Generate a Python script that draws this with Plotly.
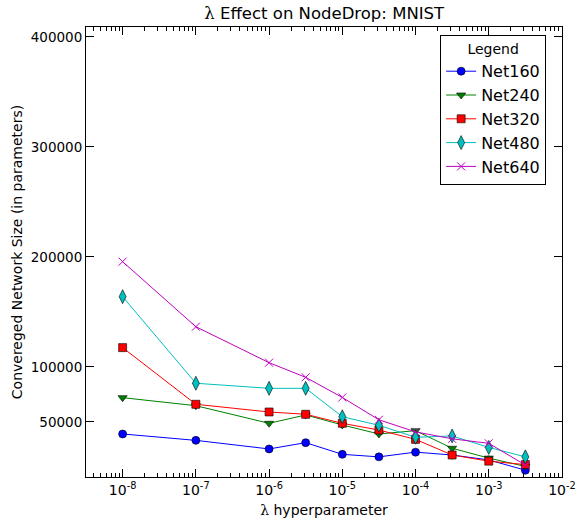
import plotly.graph_objects as go

lambdas = [1e-8, 1e-7, 1e-6, 3.16e-6, 1e-5, 3.16e-5, 1e-4, 3.16e-4, 1e-3, 3.16e-3]

net160 = [39100, 33300, 25500, 31200, 20600, 18300, 22600, 20000, 15500, 6200]
net240 = [72100, 64800, 48800, 56400, 47300, 39100, 42100, 26100, 17200, 9600]
net320 = [117600, 66100, 59100, 57000, 48800, 42700, 34200, 20000, 14400, 11300]
net480 = [163900, 85200, 80600, 80600, 54800, 47000, 36100, 37300, 26900, 18300]
net640 = [195700, 136600, 103900, 90600, 72300, 52000, 41000, 34700, 30600, 10900]

series_names = ["Net160", "Net240", "Net320", "Net480", "Net640"]
series_vals = [net160, net240, net320, net480, net640]
colors = ["#0000ff", "#008000", "#ff0000", "#00bfbf", "#bf00bf"]
symbols = ["circle", "triangle-down", "square", "diamond-tall", "x-thin"]

x_tickvals = [1e-8, 1e-7, 1e-6, 1e-5, 1e-4, 1e-3, 1e-2]
x_ticktext = ["10<sup>-8</sup>", "10<sup>-7</sup>", "10<sup>-6</sup>", "10<sup>-5</sup>",
              "10<sup>-4</sup>", "10<sup>-3</sup>", "10<sup>-2</sup>"]
y_tickvals = [50000, 100000, 200000, 300000, 400000]
y_ticktext = ["50000", "100000", "200000", "300000", "400000"]

minor_vals = [m * 10.0 ** e for e in range(-9, -1) for m in range(2, 10)]

fig = go.Figure()
for name, vals, c, s in zip(series_names, series_vals, colors, symbols):
    if s == "x-thin":
        marker = dict(symbol=s, size=8, color=c, line=dict(color=c, width=1))
    else:
        marker = dict(symbol=s, size=8 if s != "diamond-tall" else 10, color=c,
                      line=dict(color="black", width=0.6))
    fig.add_trace(go.Scatter(x=lambdas, y=vals, name=name, mode="lines+markers",
                             line=dict(color=c, width=1), marker=marker))

fig.update_layout(
    width=578, height=520,
    margin=dict(l=86, r=16, t=27, b=43),
    paper_bgcolor="white", plot_bgcolor="white",
    font=dict(family="DejaVu Sans", size=13, color="black"),
    title=dict(text='<span style="font-family:DejaVu Serif">λ</span> Effect on NodeDrop: MNIST',
               x=0.561, xanchor="center", y=0.975, yanchor="middle",
               font=dict(size=16.5)),
    legend=dict(x=0.744, y=0.982, xanchor="left", yanchor="top",
                bgcolor="white", bordercolor="black", borderwidth=1,
                font=dict(size=16), itemwidth=30, tracegroupgap=0,
                title=dict(text="Legend", side="top center", font=dict(size=14))),
    showlegend=True,
)

fig.update_xaxes(
    type="log", range=[-8.5, -2], automargin=False,
    tickmode="array", tickvals=x_tickvals, ticktext=x_ticktext,
    tickfont=dict(size=14),
    ticks="inside", ticklen=8, tickcolor="black", tickwidth=1,
    minor=dict(tickmode="array", tickvals=minor_vals, ticks="inside", ticklen=4,
               tickcolor="black", tickwidth=1, showgrid=False),
    showline=True, linecolor="black", linewidth=1, mirror="allticks",
    showgrid=False, zeroline=False,
    title=dict(text='<span style="font-family:DejaVu Serif">λ</span> hyperparameter',
               font=dict(size=14), standoff=8),
)
fig.update_yaxes(
    range=[0, 409000], automargin=False,
    tickmode="array", tickvals=y_tickvals, ticktext=y_ticktext,
    tickfont=dict(size=13.5),
    ticks="inside", ticklen=8, tickcolor="black", tickwidth=1,
    showline=True, linecolor="black", linewidth=1, mirror="allticks",
    showgrid=False, zeroline=False,
    title=dict(text="Convereged Network Size (in parameters)", font=dict(size=14), standoff=4),
)

fig.write_html("out.html")
